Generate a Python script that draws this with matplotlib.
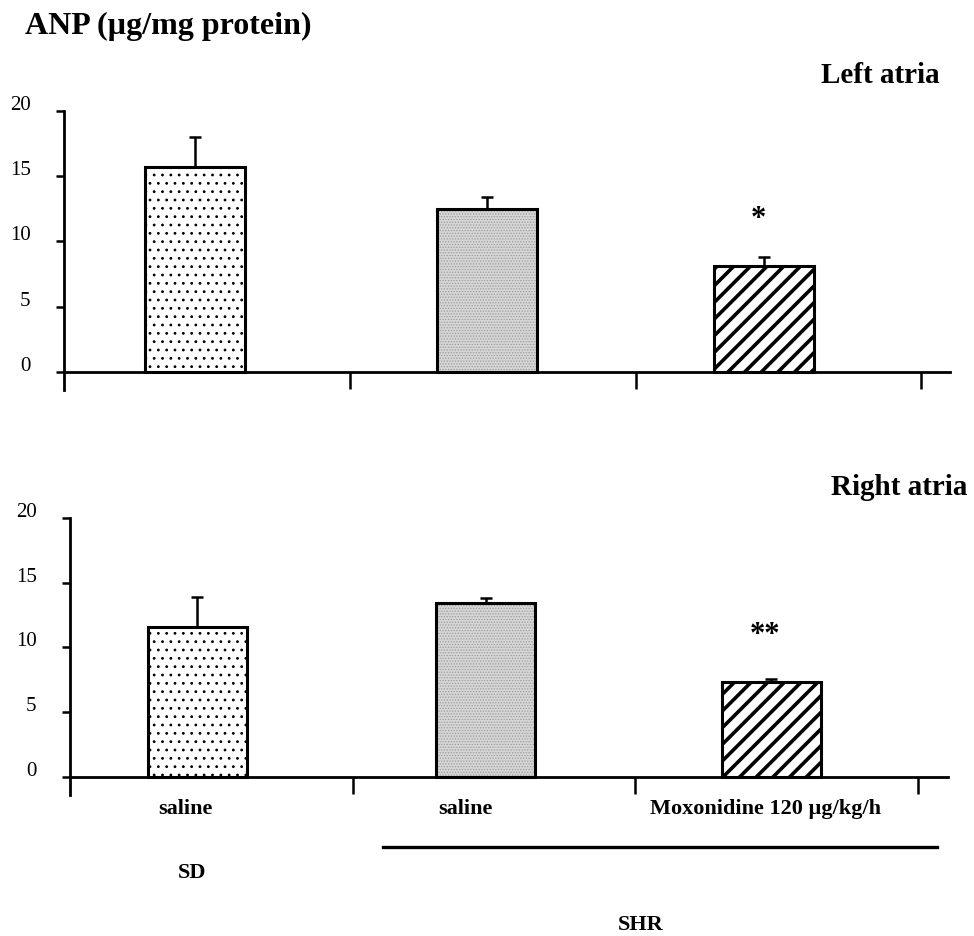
import numpy as np
import matplotlib
matplotlib.use("Agg")
import matplotlib.pyplot as plt
from matplotlib.transforms import ScaledTranslation
from matplotlib.lines import Line2D

plt.rcParams['font.family'] = ['Liberation Serif', 'DejaVu Serif']

groups = ["saline", "saline", "Moxonidine 120 µg/kg/h"]
left_vals = [15.7, 12.5, 8.1]
left_errs = [2.3, 0.9, 0.7]
right_vals = [11.6, 13.4, 7.3]
right_errs = [2.3, 0.4, 0.3]
left_sig = ["", "", "*"]
right_sig = ["", "", "**"]
yticks = [0, 5, 10, 15, 20]

W, H = 974, 936
fig = plt.figure(figsize=(W / 100, H / 100), dpi=100)


def px_axes(x0, y0, x1, y1):
    return fig.add_axes([x0 / W, 1 - y1 / H, (x1 - x0) / W, (y1 - y0) / H])


def draw_panel(ax, vals, errs, sig, offsets, xmax, sig_gap):
    x = np.arange(len(vals)) + np.array(offsets)
    w = 0.35
    with plt.rc_context({'hatch.linewidth': 0.8}):
        ax.bar(x[0], vals[0], w, facecolor='white', edgecolor='black', hatch='..',
               linewidth=0, zorder=2)
    with plt.rc_context({'hatch.linewidth': 0.6}):
        ax.bar(x[1], vals[1], w, facecolor='#d6d6d6', edgecolor='#9a9a9a', hatch='......',
               linewidth=0, zorder=2)
    with plt.rc_context({'hatch.linewidth': 2.6}):
        ax.bar(x[2], vals[2], w, facecolor='white', edgecolor='black', hatch='//',
               linewidth=0, zorder=2)
    ax.bar(x, vals, w, facecolor='none', edgecolor='black', linewidth=2.2, zorder=3)
    ax.errorbar(x, vals, yerr=[np.zeros(len(errs)), errs], fmt='none',
                ecolor='black', elinewidth=1.8, capsize=4.5, capthick=1.8, zorder=1)
    for xi, v, e, s in zip(x, vals, errs, sig):
        if s:
            ax.text(xi - 0.02, v + e + sig_gap, s, ha='center', va='center',
                    fontsize=22, fontweight='bold')
    ax.set_xlim(0, xmax)
    ax.set_ylim(-1.4, 20)
    ax.set_yticks(yticks)
    ax.set_yticklabels([str(t) for t in yticks], fontsize=15)
    ax.set_xticks([1, 2, 3])
    ax.set_xticklabels([])
    for sp in ['top', 'right']:
        ax.spines[sp].set_visible(False)
    ax.spines['bottom'].set_position(('data', 0))
    ax.spines['bottom'].set_linewidth(2)
    ax.spines['left'].set_linewidth(2)
    ax.tick_params(axis='y', direction='out', length=6, width=1.8, pad=18)
    ax.tick_params(axis='x', direction='out', length=12, width=1.8)
    for lab in ax.get_yticklabels():
        lab.set_transform(lab.get_transform() + ScaledTranslation(0, 0.08, fig.dpi_scale_trans))
    ax.set_facecolor('none')


ax1 = px_axes(64, 111, 950, 390)
draw_panel(ax1, left_vals, left_errs, left_sig, [0.46, 0.48, 0.45], 886 / 285.8, 2.9)
ax2 = px_axes(70, 518, 948, 795)
draw_panel(ax2, right_vals, right_errs, right_sig, [0.45, 0.47, 0.48], 878 / 282.7, 3.3)

fig.text(25 / W, 1 - 34 / H, "ANP (µg/mg protein)", fontsize=23, fontweight='bold',
         ha='left', va='baseline')
fig.text(940 / W, 1 - 83 / H, "Left atria", fontsize=21, fontweight='bold',
         ha='right', va='baseline')
fig.text(967 / W, 1 - 495 / H, "Right atria", fontsize=21, fontweight='bold',
         ha='right', va='baseline')

label_x = [185, 465, 765]
for lx, g in zip(label_x, groups):
    fig.text(lx / W, 1 - 814 / H, g, fontsize=16, fontweight='bold', ha='center', va='baseline')
fig.text(192 / W, 1 - 878 / H, "SD", fontsize=16, fontweight='bold', ha='center', va='baseline')
fig.text(641 / W, 1 - 930 / H, "SHR", fontsize=16, fontweight='bold', ha='center', va='baseline')
fig.add_artist(Line2D([383 / W, 937 / W], [1 - 847 / H, 1 - 847 / H], color='black', linewidth=2.4))

fig.savefig("out.png", dpi=100, facecolor='white')
